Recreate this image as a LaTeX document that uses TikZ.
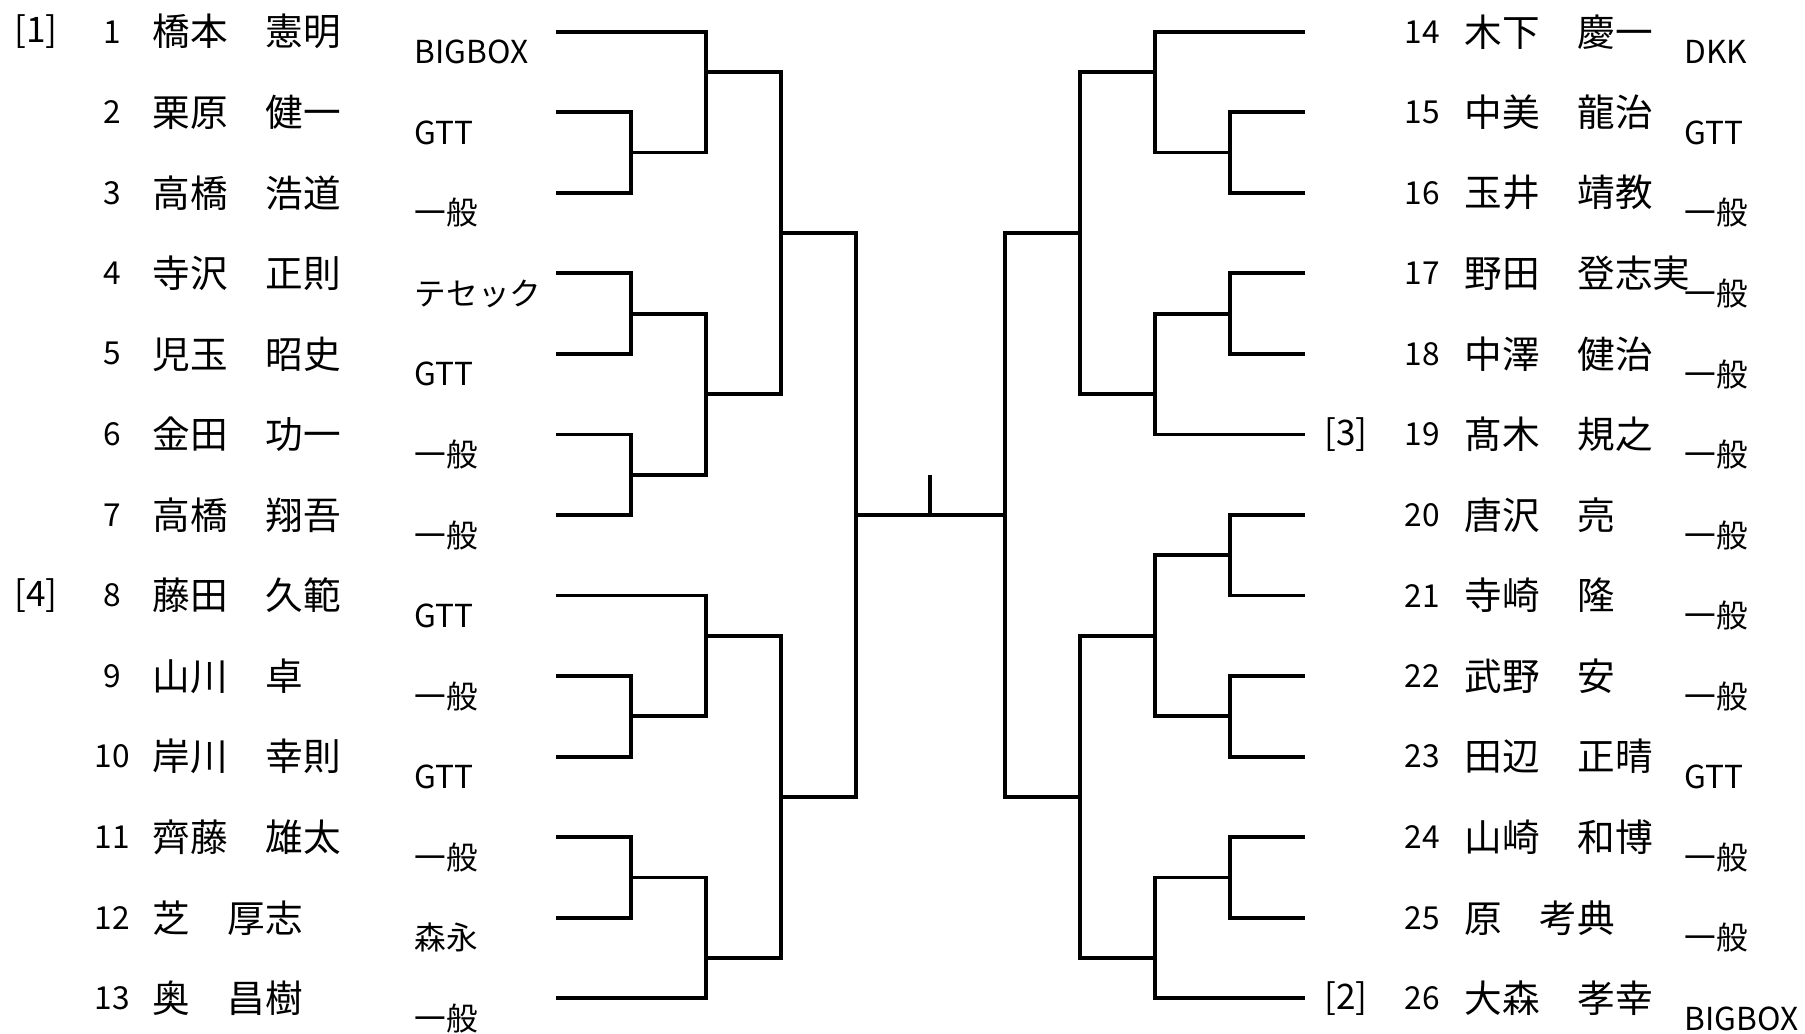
\documentclass[tikz,border=0pt]{standalone}
\usepackage{fontspec}
\setmainfont{Noto Sans CJK JP}
\tikzset{
  wire/.style={line width=1.1pt},
  pnum/.style={inner sep=0pt,font=\fontsize{9}{10}\selectfont},
  pname/.style={anchor=west,inner sep=0pt,font=\fontsize{10.7}{12}\selectfont},
  club/.style={anchor=west,inner sep=0pt,font=\fontsize{9}{10}\selectfont},
  seed/.style={inner sep=0pt,font=\fontsize{10}{11}\selectfont}
}

\begin{document}
\begin{tikzpicture}[x=0.01cm,y=-0.4025cm]
  \useasboundingbox (0,-0.788) rectangle (1805,24.877);
  % left block
  \node[seed] (s1) at (36,0) {[1]};
  \node[seed] (s4) at (36,14) {[4]};
  \node[pnum] (n1) at (112,0) {1};
  \node[pnum] (n2) at (112,2) {2};
  \node[pnum] (n3) at (112,4) {3};
  \node[pnum] (n4) at (112,6) {4};
  \node[pnum] (n5) at (112,8) {5};
  \node[pnum] (n6) at (112,10) {6};
  \node[pnum] (n7) at (112,12) {7};
  \node[pnum] (n8) at (112,14) {8};
  \node[pnum] (n9) at (112,16) {9};
  \node[pnum] (n10) at (112,18) {10};
  \node[pnum] (n11) at (112,20) {11};
  \node[pnum] (n12) at (112,22) {12};
  \node[pnum] (n13) at (112,24) {13};
  \node[pname] (p1) at (152,0) {橋本　憲明};
  \node[pname] (p2) at (152,2) {栗原　健一};
  \node[pname] (p3) at (152,4) {高橋　浩道};
  \node[pname] (p4) at (152,6) {寺沢　正則};
  \node[pname] (p5) at (152,8) {児玉　昭史};
  \node[pname] (p6) at (152,10) {金田　功一};
  \node[pname] (p7) at (152,12) {高橋　翔吾};
  \node[pname] (p8) at (152,14) {藤田　久範};
  \node[pname] (p9) at (152,16) {山川　卓};
  \node[pname] (p10) at (152,18) {岸川　幸則};
  \node[pname] (p11) at (152,20) {齊藤　雄太};
  \node[pname] (p12) at (152,22) {芝　厚志};
  \node[pname] (p13) at (152,24) {奥　昌樹};
  \node[club] (c1) at (414,0.5) {BIGBOX};
  \node[club] (c2) at (414,2.5) {GTT};
  \node[club] (c3) at (414,4.5) {一般};
  \node[club] (c4) at (414,6.5) {テセック};
  \node[club] (c5) at (414,8.5) {GTT};
  \node[club] (c6) at (414,10.5) {一般};
  \node[club] (c7) at (414,12.5) {一般};
  \node[club] (c8) at (414,14.5) {GTT};
  \node[club] (c9) at (414,16.5) {一般};
  \node[club] (c10) at (414,18.5) {GTT};
  \node[club] (c11) at (414,20.5) {一般};
  \node[club] (c12) at (414,22.5) {森永};
  \node[club] (c13) at (414,24.5) {一般};
  % right block
  \node[seed] (s3) at (1346,10) {[3]};
  \node[seed] (s2) at (1346,24) {[2]};
  \node[pnum] (n14) at (1422,0) {14};
  \node[pnum] (n15) at (1422,2) {15};
  \node[pnum] (n16) at (1422,4) {16};
  \node[pnum] (n17) at (1422,6) {17};
  \node[pnum] (n18) at (1422,8) {18};
  \node[pnum] (n19) at (1422,10) {19};
  \node[pnum] (n20) at (1422,12) {20};
  \node[pnum] (n21) at (1422,14) {21};
  \node[pnum] (n22) at (1422,16) {22};
  \node[pnum] (n23) at (1422,18) {23};
  \node[pnum] (n24) at (1422,20) {24};
  \node[pnum] (n25) at (1422,22) {25};
  \node[pnum] (n26) at (1422,24) {26};
  \node[pname] (p14) at (1464,0) {木下　慶一};
  \node[pname] (p15) at (1464,2) {中美　龍治};
  \node[pname] (p16) at (1464,4) {玉井　靖教};
  \node[pname] (p17) at (1464,6) {野田　登志実};
  \node[pname] (p18) at (1464,8) {中澤　健治};
  \node[pname] (p19) at (1464,10) {髙木　規之};
  \node[pname] (p20) at (1464,12) {唐沢　亮};
  \node[pname] (p21) at (1464,14) {寺崎　隆};
  \node[pname] (p22) at (1464,16) {武野　安};
  \node[pname] (p23) at (1464,18) {田辺　正晴};
  \node[pname] (p24) at (1464,20) {山崎　和博};
  \node[pname] (p25) at (1464,22) {原　考典};
  \node[pname] (p26) at (1464,24) {大森　孝幸};
  \node[club] (c14) at (1684,0.5) {DKK};
  \node[club] (c15) at (1684,2.5) {GTT};
  \node[club] (c16) at (1684,4.5) {一般};
  \node[club] (c17) at (1684,6.5) {一般};
  \node[club] (c18) at (1684,8.5) {一般};
  \node[club] (c19) at (1684,10.5) {一般};
  \node[club] (c20) at (1684,12.5) {一般};
  \node[club] (c21) at (1684,14.5) {一般};
  \node[club] (c22) at (1684,16.5) {一般};
  \node[club] (c23) at (1684,18.5) {GTT};
  \node[club] (c24) at (1684,20.5) {一般};
  \node[club] (c25) at (1684,22.5) {一般};
  \node[club] (c26) at (1684,24.5) {BIGBOX};
  % leaf ends
  \coordinate (l1) at (556,0);
  \coordinate (l2) at (556,2);
  \coordinate (l3) at (556,4);
  \coordinate (l4) at (556,6);
  \coordinate (l5) at (556,8);
  \coordinate (l6) at (556,10);
  \coordinate (l7) at (556,12);
  \coordinate (l8) at (556,14);
  \coordinate (l9) at (556,16);
  \coordinate (l10) at (556,18);
  \coordinate (l11) at (556,20);
  \coordinate (l12) at (556,22);
  \coordinate (l13) at (556,24);
  \coordinate (r14) at (1305,0);
  \coordinate (r15) at (1305,2);
  \coordinate (r16) at (1305,4);
  \coordinate (r17) at (1305,6);
  \coordinate (r18) at (1305,8);
  \coordinate (r19) at (1305,10);
  \coordinate (r20) at (1305,12);
  \coordinate (r21) at (1305,14);
  \coordinate (r22) at (1305,16);
  \coordinate (r23) at (1305,18);
  \coordinate (r24) at (1305,20);
  \coordinate (r25) at (1305,22);
  \coordinate (r26) at (1305,24);
  % junctions
  \coordinate (a1) at (631,3);
  \coordinate (a2) at (631,7);
  \coordinate (a3) at (631,11);
  \coordinate (a4) at (631,17);
  \coordinate (a5) at (631,21);
  \coordinate (b1) at (706,1);
  \coordinate (b2) at (706,9);
  \coordinate (b3) at (706,15);
  \coordinate (b4) at (706,23);
  \coordinate (c1j) at (781,5);
  \coordinate (c2j) at (781,19);
  \coordinate (d1) at (856,12);
  \coordinate (e1) at (1230,3);
  \coordinate (e2) at (1230,7);
  \coordinate (e3) at (1230,13);
  \coordinate (e4) at (1230,17);
  \coordinate (e5) at (1230,21);
  \coordinate (f1) at (1155,1);
  \coordinate (f2) at (1155,9);
  \coordinate (f3) at (1155,15);
  \coordinate (f4) at (1155,23);
  \coordinate (g1) at (1080,5);
  \coordinate (g2) at (1080,19);
  \coordinate (h1) at (1005,12);
  \coordinate (ctr) at (930,12);
  \coordinate (top) at (930,11);
  % bracket lines
  \draw[wire] (l2) -| (a1) |- (l3);
  \draw[wire] (l4) -| (a2) |- (l5);
  \draw[wire] (l6) -| (a3) |- (l7);
  \draw[wire] (l9) -| (a4) |- (l10);
  \draw[wire] (l11) -| (a5) |- (l12);
  \draw[wire] (l1) -| (b1) |- (a1);
  \draw[wire] (a2) -| (b2) |- (a3);
  \draw[wire] (l8) -| (b3) |- (a4);
  \draw[wire] (a5) -| (b4) |- (l13);
  \draw[wire] (b1) -| (c1j) |- (b2);
  \draw[wire] (b3) -| (c2j) |- (b4);
  \draw[wire] (c1j) -| (d1) |- (c2j);
  \draw[wire] (r15) -| (e1) |- (r16);
  \draw[wire] (r17) -| (e2) |- (r18);
  \draw[wire] (r20) -| (e3) |- (r21);
  \draw[wire] (r22) -| (e4) |- (r23);
  \draw[wire] (r24) -| (e5) |- (r25);
  \draw[wire] (r14) -| (f1) |- (e1);
  \draw[wire] (e2) -| (f2) |- (r19);
  \draw[wire] (e3) -| (f3) |- (e4);
  \draw[wire] (e5) -| (f4) |- (r26);
  \draw[wire] (f1) -| (g1) |- (f2);
  \draw[wire] (f3) -| (g2) |- (f4);
  \draw[wire] (g1) -| (h1) |- (g2);
  \draw[wire] (d1) -- (h1);
  \draw[wire] (ctr) -- (top);
\end{tikzpicture}
\end{document}
